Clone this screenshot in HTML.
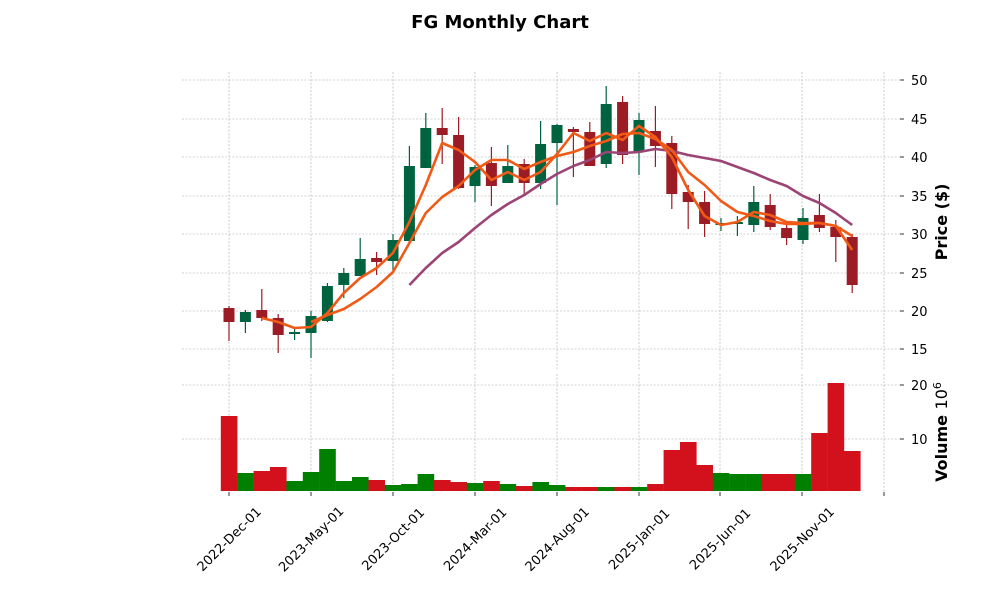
<!DOCTYPE html>
<html><head><meta charset="utf-8"><style>
body{margin:0;background:#fff}
svg{display:block;font-family:"DejaVu Sans","Liberation Sans",sans-serif}
</style></head><body>
<svg id="s" width="1000" height="600" viewBox="0 0 1000 600" xmlns="http://www.w3.org/2000/svg">
<rect width="1000" height="600" fill="#fff"/>
<g id="grid" stroke="#a8a8a8" stroke-width="0.6" stroke-dasharray="2,1.6"></g>
<g id="vol"></g>
<g id="cand"></g>
<g id="ma" fill="none" stroke-width="2.6" stroke-linejoin="round"></g>
<text x="500" y="28" font-size="18" font-weight="bold" text-anchor="middle">FG Monthly Chart</text>
<g font-size="13" fill="#000">
<text x="911" y="85">50</text><text x="911" y="124">45</text><text x="911" y="162">40</text>
<text x="911" y="201">35</text><text x="911" y="239">30</text><text x="911" y="278">25</text>
<text x="911" y="316">20</text><text x="911" y="354">15</text>
<text x="911" y="390">20</text><text x="911" y="444">10</text>
</g>
<text transform="translate(947,222) rotate(-90)" font-size="16" font-weight="bold" text-anchor="middle">Price ($)</text>
<text transform="translate(947,432) rotate(-90)" font-size="16" font-weight="bold" text-anchor="middle">Volume  <tspan font-weight="normal">10</tspan><tspan font-weight="normal" font-size="11" dy="-6">6</tspan></text>
<g font-size="13" text-anchor="middle">
<text transform="translate(229,539) rotate(-45)" dy="0.35em">2022-Dec-01</text>
<text transform="translate(311,539) rotate(-45)" dy="0.35em">2023-May-01</text>
<text transform="translate(393,539) rotate(-45)" dy="0.35em">2023-Oct-01</text>
<text transform="translate(475,539) rotate(-45)" dy="0.35em">2024-Mar-01</text>
<text transform="translate(557,539) rotate(-45)" dy="0.35em">2024-Aug-01</text>
<text transform="translate(639,539) rotate(-45)" dy="0.35em">2025-Jan-01</text>
<text transform="translate(720,539) rotate(-45)" dy="0.35em">2025-Jun-01</text>
<text transform="translate(802,539) rotate(-45)" dy="0.35em">2025-Nov-01</text>
</g>
<g id="ticks" stroke="#000" stroke-width="0.8"></g>
</svg>
<script>
const NS="http://www.w3.org/2000/svg";
function el(p,t,a){const e=document.createElementNS(NS,t);for(const k in a)e.setAttribute(k,a[k]);document.getElementById(p).appendChild(e);return e;}
[80,119,157,196,234,273,311,349].forEach(y=>el('grid','line',{x1:182,x2:900,y1:y,y2:y}));
[385,439].forEach(y=>el('grid','line',{x1:182,x2:900,y1:y,y2:y}));
[229,311,393,475,557,639,720,802,884].forEach(x=>{el('grid','line',{x1:x,x2:x,y1:72,y2:370});el('grid','line',{x1:x,x2:x,y1:374,y2:492});el('ticks','line',{x1:x,x2:x,y1:492,y2:496});});
[80,119,157,196,234,273,311,349,385,439].forEach(y=>el('ticks','line',{x1:900,x2:904,y1:y,y2:y}));
const X=i=>229+16.4*i;
const C=[['r',308,322,306,341],['g',312,322,310,333],['r',310,318,289,321],['r',318,335,314,353],['g',332,334,328,340],['g',316,333,311,358],['g',286,321,283,322],['g',273,285,268,298],['g',259,276,238,276],['r',258,262,252,275],['g',240,261,234,273],['g',166,241,146,243],['g',128,168,113,168],['r',128,135,108,164],['r',135,188,117,189],['g',167,186,165,202],['r',163,186,147,206],['g',166,183,145,183],['r',164,183,159,194],['g',144,183,121,189],['g',125,143,124,205],['r',129,132,127,177],['r',132,166,122,164],['g',104,164,86,168],['r',102,155,96,164],['g',120,151,113,175],['r',131,146,106,167],['r',143,194,136,209],['r',192,202,185,229],['r',202,224,191,237],['g',223,225,218,231],['g',222,224,216,236],['g',202,225,186,232],['r',205,227,194,230],['r',228,238,224,245],['g',218,240,208,244],['r',215,228,194,232],['r',227,237,220,262],['r',237,285,234,293]];
C.forEach((c,i)=>{const x=X(i),col=c[0]=='r'?'#9b1c25':'#006340';
el('cand','line',{x1:x,x2:x,y1:c[3],y2:c[4],stroke:col,'stroke-width':1.2});
el('cand','rect',{x:x-5.5,y:c[1],width:11,height:Math.max(c[2]-c[1],2),fill:col});});
const V=[['r',416],['g',473],['r',471],['r',467],['g',481],['g',472],['g',449],['g',481],['g',477],['r',480],['g',485],['g',484],['g',474],['r',480],['r',482],['g',483],['r',481],['g',484],['r',486],['g',482],['g',485],['r',487],['r',487],['g',487],['r',487],['g',487],['r',484],['r',450],['r',442],['r',465],['g',473],['g',474],['g',474],['r',474],['r',474],['g',474],['r',433],['r',383],['r',451]];
V.forEach((v,i)=>el('vol','rect',{x:X(i)-8.2,y:v[1],width:16.6,height:491-v[1],fill:v[0]=='r'?'#d3111c':'#007f00'}));
function line(pts,col){el('ma','polyline',{points:pts.map(p=>p.join(',')).join(' '),stroke:col});}
const A=[318,322,328,327,313,293,278,268,253,222,185,143,150,162,180,172,180,172,154,133,141,133,140,126,137,157,190,216,225,222,212,215,222,223,223,226,250];
const B=[322,315,309,299,287,272,243,213,197,186,170,160,160,169,162,156,152,146,141,134,133,139,150,172,185,201,212,216,221,224,224,223,226,236];
const P=[285,268,253,242,228,215,204,195,184,174,166,160,152,153,152,149,151,155,158,161,167,173,180,186,196,203,213,225];
line(P.map((y,i)=>[X(i+11),y]),'#9c4475');
line(B.map((y,i)=>[X(i+5),y]),'#f05a16');
line(A.map((y,i)=>[X(i+2),y]),'#f05a16');
</script>
</body></html>
